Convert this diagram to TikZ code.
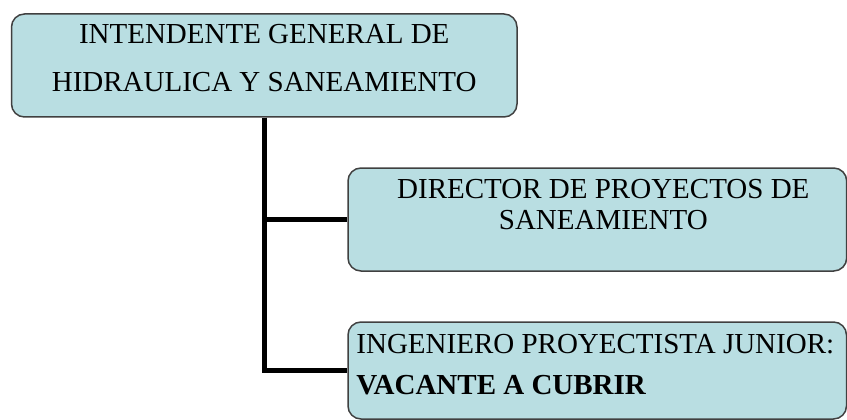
\documentclass[tikz,border=0pt]{standalone}
\usepackage{fontspec}
\setmainfont{Liberation Serif}
\usepackage{xcolor}
\usepackage{tikz}
\usetikzlibrary{positioning}
\definecolor{cajaazul}{RGB}{185,222,226}

\begin{document}
\begin{tikzpicture}[x=1pt,y=-1pt]
        \tikzstyle{every node}+=[inner sep=0pt]
        \tikzstyle{caja}=[draw=black!75, line width=1.5pt, fill=cajaazul, rounded corners=13pt]
        \tikzstyle{conector}=[black, line width=5pt]
        \tikzstyle{texto}=[align=center, anchor=north]
        \useasboundingbox (0,0) rectangle (847,420);
        \node [caja, minimum width=505.5pt, minimum height=103pt] (jefe) at (264.25,65.5) {};
        \node [caja, minimum width=498.7pt, minimum height=103pt] (director) at (597.35,219.5) {};
        \node [caja, minimum width=498.5pt, minimum height=97pt] (ingeniero) at (597.25,370.5) {};
        \node [texto, below=11pt of jefe.north, font=\fontsize{29}{47.5}\selectfont] (jefetxt) {INTENDENTE GENERAL DE\\HIDRAULICA Y SANEAMIENTO};
        \node [texto, below=12pt of director.north, xshift=6pt, font=\fontsize{29}{31}\selectfont] (directortxt) {DIRECTOR DE PROYECTOS DE\\SANEAMIENTO};
        \node [texto, align=left, anchor=north west, font=\fontsize{29}{41}\selectfont] (ingenierotxt) at ([xshift=9pt,yshift=-13pt]ingeniero.north west) {INGENIERO PROYECTISTA JUNIOR:\\\textbf{VACANTE A CUBRIR}};
        \draw [conector] (jefe.south) |- (director.west);
        \draw [conector] (jefe.south) |- (ingeniero.west);
    \end{tikzpicture}
\end{document}
